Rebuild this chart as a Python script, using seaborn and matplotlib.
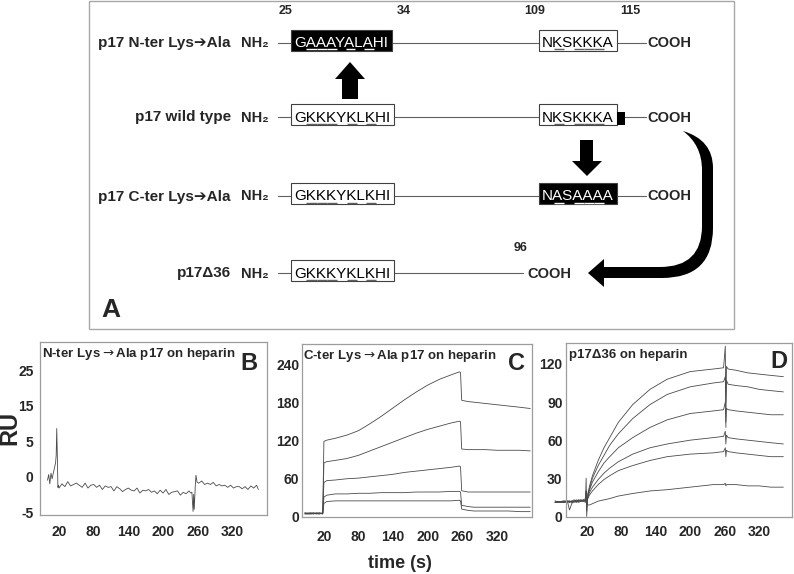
import matplotlib
matplotlib.use("Agg")
import pandas as pd
import matplotlib.pyplot as plt
import seaborn as sns
from matplotlib.patches import Rectangle, Polygon, PathPatch
from matplotlib.path import Path
from matplotlib.font_manager import FontProperties
from matplotlib.textpath import TextToPath

# --- Panel A: p17 constructs ---
ROW_LABELS = ["p17 N-ter Lys\u2794Ala", "p17 wild type", "p17 C-ter Lys\u2794Ala", "p17\u039436"]
N_SEQS = ["GAAAYALAHI", "GKKKYKLKHI", "GKKKYKLKHI", "GKKKYKLKHI"]
N_MUTATED = [True, False, False, False]
N_UNDERLINE = [1, 2, 3, 5, 7]
C_SEQS = ["NKSKKKA", "NKSKKKA", "NASAAAA", None]
C_MUTATED = [False, False, True, False]
C_UNDERLINE = [1, 3, 4, 5]
RESIDUES = ["25", "34", "109", "115"]
TRUNC_RESIDUE = "96"

# --- Panels B-D: sensorgrams (time in s, response in RU) ---
X_TICKS = [20, 80, 140, 200, 260, 320]

# B: N-ter Lys->Ala p17 (tick labels of the original are 25/15/5/0/-5 on an even grid)
B_TIME = [0, 2, 4, 6, 8, 10, 12, 14, 15, 16, 17, 18, 19, 20,
          25, 30, 35, 40, 45, 50, 55, 60, 65, 70, 75, 80, 85, 90, 95, 100, 105, 110, 115,
          120, 125, 130, 135, 140, 145, 150, 155, 160, 165, 170, 175, 180, 185, 190, 195,
          200, 205, 210, 215, 220, 225, 230, 235, 240, 245,
          248, 250, 252, 253, 254, 256, 257, 259,
          262, 267, 272, 277, 282, 287, 292, 297, 302, 307, 312, 317, 322, 327, 332, 337,
          342, 347, 352, 357, 362, 365]
B_RU = [-0.5, 0.3, -1.0, 0.5, -0.3, 0.5, 1.2, 2.0, 3.0, 6.8, 3.0, -1.5, -1.2, -1.6,
        -1.0, -1.4, -0.7, -1.3, -1.1, -0.9, -1.2, -1.5, -0.9, -1.6,
        -1.2, -1.1, -1.5, -1.2, -1.8, -1.3, -1.5, -1.4, -2.0, -1.4,
        -1.7, -2.1, -1.8, -1.6, -1.9, -2.0, -1.6, -2.3, -1.9, -2.0,
        -1.8, -2.2, -2.0, -2.4, -1.9, -2.3, -1.8, -2.5, -2.2, -2.1,
        -2.0, -2.6, -2.2, -2.4, -2.0,
        -2.3, -2.2, -4.9, -2.5, -4.6, -1.0, 0.2, -0.8,
        -0.9, -0.6, -1.1, -0.9, -1.1, -0.8, -1.3, -1.1, -1.3, -1.2,
        -1.5, -1.2, -1.6, -1.4, -1.4, -1.7, -1.4, -1.8, -1.3, -1.6, -1.2, -1.8]
B_YTICKS = [-5, 0, 5, 10, 15]
B_YLABELS = ["-5", "0", "5", "15", "25"]

# C: C-ter Lys->Ala p17, five concentrations
C_TIME = [-13, -8, -3, 2, 7, 12, 18, 20, 25, 40, 60, 80, 100, 120, 140, 160, 180, 200,
          220, 240, 255, 257, 259, 270, 280, 300, 320, 340, 360, 378]
C_1 = [4, 5, 4, 5, 3, 5, 4, 118, 120, 123, 128, 135, 146, 158, 171, 184, 196, 207,
       216, 223, 228, 227, 183, 181, 180, 178, 176, 174, 172, 170]
C_2 = [5, 4, 5, 3, 5, 4, 5, 84, 86, 88, 91, 96, 103, 110, 117, 124, 131, 137,
       142, 147, 150, 149, 106, 105, 105, 105, 104, 104, 104, 103]
C_3 = [3, 4, 5, 4, 4, 3, 5, 53, 56, 57, 59, 60, 62, 64, 66, 69, 71, 73,
       75, 77, 79, 78, 40, 38, 38, 38, 38, 38, 38, 38]
C_4 = [4, 3, 4, 5, 4, 5, 3, 30, 33, 35, 35, 36, 36, 37, 37, 37, 38, 38,
       38, 39, 39, 38, 17, 15, 14, 14, 14, 14, 14, 14]
C_5 = [5, 4, 3, 4, 5, 4, 4, 20, 23, 24, 24, 24, 24, 24, 24, 24, 24, 24,
       24, 24, 25, 24, 11, 9, 8, 8, 8, 8, 7, 7]
C_YTICKS = [0, 60, 120, 180, 240]

# D: p17 delta36, six concentrations
D_TIME = [-35, -20, -13, -10, -6, -2, 2, 6, 10, 14, 18, 19, 20, 22, 25, 30, 40, 50, 60,
          75, 100, 130, 160, 200, 240, 258, 261, 262, 263, 266, 280, 300, 320, 340, 362]
D_1 = [11, 11, 11, 5, 10, 12, 12, 13, 12, 13, 14, 30, 0, 18, 24, 32, 44, 54, 62,
       74, 88, 100, 108, 114, 116, 117, 134, 70, 118, 116, 115, 113, 112, 111, 110]
D_2 = [11, 12, 12, 11, 12, 13, 12, 12, 13, 12, 13, 20, 4, 17, 22, 30, 40, 48, 56,
       65, 77, 88, 96, 102, 105, 106, 110, 90, 107, 104, 103, 102, 100, 99, 98]
D_3 = [12, 11, 12, 12, 11, 12, 13, 12, 12, 13, 12, 16, 8, 16, 21, 27, 35, 42, 47,
       54, 62, 70, 76, 81, 83, 84, 90, 74, 85, 84, 83, 82, 81, 80, 80]
D_4 = [11, 12, 11, 12, 12, 11, 12, 13, 12, 12, 13, 14, 10, 15, 19, 23, 29, 34, 38,
       43, 49, 54, 57, 60, 62, 63, 67, 57, 64, 62, 61, 60, 59, 58, 57]
D_5 = [12, 11, 12, 11, 12, 12, 11, 12, 13, 12, 12, 13, 11, 14, 17, 20, 25, 29, 32,
       36, 40, 44, 47, 49, 50, 51, 54, 47, 52, 51, 50, 49, 48, 47, 47]
D_6 = [11, 12, 12, 12, 11, 12, 12, 11, 12, 12, 11, 12, 10, 9, 9, 10, 12, 13, 14,
       16, 18, 20, 21, 23, 25, 25, 26, 24, 25, 25, 25, 24, 24, 23, 23]
D_YTICKS = [0, 30, 60, 90, 120]

PANEL_TITLES = ["N-ter Lys$\\rightarrow$Ala p17 on heparin",
                "C-ter Lys$\\rightarrow$Ala p17 on heparin",
                "p17\u039436 on heparin"]
PANEL_LETTERS = ["B", "C", "D"]

# --- style ---
sns.set_style("white")
FAMILY = ["Liberation Sans", "DejaVu Sans"]
plt.rcParams["font.family"] = FAMILY
TRACE = "#4a4a4a"
SPINE = "#9c9c9c"

W, H, DPI = 794, 574, 100
fig = plt.figure(figsize=(W / DPI, H / DPI), dpi=DPI)

# pixel-space overlay for the schematic and figure-level labels
ov = fig.add_axes([0, 0, 1, 1])
ov.set_xlim(0, W)
ov.set_ylim(H, 0)
ov.axis("off")
ov.set_zorder(10)


def px_rect(left, top, right, bottom):
    return [left / W, (H - bottom) / H, (right - left) / W, (bottom - top) / H]


t2p = TextToPath()
seq_prop = FontProperties(family="Liberation Sans", size=11, weight="normal")


def text_px(s, prop):
    w, _, _ = t2p.get_text_width_height_descent(s, prop, ismath=False)
    return w * DPI / 72


def seq_box(x0, y, seq, under, filled):
    pad = 3
    w = text_px(seq, seq_prop) + 2 * pad
    ov.add_patch(Rectangle((x0, y - 13), w, 21, fc="black" if filled else "white",
                           ec="#404040", lw=0.8, zorder=3))
    base = y + 4.5
    ov.text(x0 + pad, base, seq, ha="left", va="baseline", fontproperties=seq_prop,
            color="white" if filled else "black", zorder=4)
    for i in under:
        a = x0 + pad + text_px(seq[:i], seq_prop) + 0.5
        b = x0 + pad + text_px(seq[:i + 1], seq_prop) + 0.5
        ov.plot([a, b], [base + 2, base + 2], color="white" if filled else "#606060",
                lw=1.0, solid_capstyle="butt", zorder=4)
    return x0 + w


# panel A frame
ov.add_patch(Rectangle((89, 1), 645, 328, fill=False, ec="#a8a8a8", lw=1.0))

bold11 = dict(fontsize=11, fontweight="bold", family=FAMILY)
bold10 = dict(fontsize=10.5, fontweight="bold", family=FAMILY)
LINE = dict(color="#606060", lw=0.8, zorder=2)

for x, lab in zip([286, 404, 535, 630], RESIDUES):
    ov.text(x, 14, lab, ha="center", va="baseline", fontsize=9, fontweight="bold")

ROW_Y = [42.5, 117, 196, 273]
for i, y in enumerate(ROW_Y):
    ov.text(231, y + 4.5, ROW_LABELS[i], ha="right", va="baseline", **bold11)
    ov.text(241, y + 4.5, "NH\u2082", ha="left", va="baseline", **bold10)
    ov.plot([278, 292], [y, y], **LINE)
    xr = seq_box(291, y, N_SEQS[i], N_UNDERLINE, N_MUTATED[i])
    if C_SEQS[i] is None:
        ov.plot([xr, 523], [y, y], **LINE)
        ov.text(527, y + 4.5, "COOH", ha="left", va="baseline", **bold10)
        ov.text(521, y - 22, TRUNC_RESIDUE, ha="center", va="baseline",
                fontsize=9, fontweight="bold")
        continue
    ov.plot([xr, 539], [y, y], **LINE)
    xr2 = seq_box(539, y, C_SEQS[i], C_UNDERLINE, C_MUTATED[i])
    if i == 1:
        ov.add_patch(Rectangle((xr2, y - 5), 8, 13, fc="black", ec="black", lw=0, zorder=3))
    ov.plot([xr2, 646], [y, y], **LINE)
    ov.text(647, y + 4.5, "COOH", ha="left", va="baseline", **bold10)

# block arrows
ov.add_patch(Polygon([(342, 99), (358, 99), (358, 79), (365, 79), (350, 62), (335, 79), (342, 79)],
                     closed=True, fc="black", ec="none"))
ov.add_patch(Polygon([(580, 140), (593, 140), (593, 161), (602, 161), (587, 176), (572, 161), (580, 161)],
                     closed=True, fc="black", ec="none"))
verts = [(683, 131), (713, 140), (713, 168), (713, 228), (713, 278), (662, 278), (603, 278),
         (603, 267), (660, 267), (702, 267), (702, 226), (702, 170), (702, 145), (683, 131), (683, 131)]
codes = [Path.MOVETO, Path.CURVE3, Path.CURVE3, Path.LINETO, Path.CURVE3, Path.CURVE3, Path.LINETO,
         Path.LINETO, Path.LINETO, Path.CURVE3, Path.CURVE3, Path.LINETO, Path.CURVE3, Path.CURVE3,
         Path.CLOSEPOLY]
ov.add_patch(PathPatch(Path(verts, codes), fc="black", ec="none"))
ov.add_patch(Polygon([(604, 259), (588, 273), (604, 287)], closed=True, fc="black", ec="none"))

ov.text(101, 317, "A", ha="left", va="baseline", fontsize=19, fontweight="bold")

# --- kinetics panels ---
df_b = pd.DataFrame({"time": B_TIME, "RU": B_RU})
rows = []
for k, vals in enumerate([C_1, C_2, C_3, C_4, C_5]):
    rows.append(pd.DataFrame({"time": C_TIME, "RU": vals, "curve": k}))
df_c = pd.concat(rows, ignore_index=True)
rows = []
for k, vals in enumerate([D_1, D_2, D_3, D_4, D_5, D_6]):
    rows.append(pd.DataFrame({"time": D_TIME, "RU": vals, "curve": k}))
df_d = pd.concat(rows, ignore_index=True)

ax_b = fig.add_axes(px_rect(40, 342, 267, 515))
ax_c = fig.add_axes(px_rect(302, 344, 532, 517))
ax_d = fig.add_axes(px_rect(566, 343, 792, 517))

sns.lineplot(data=df_b, x="time", y="RU", color=TRACE, lw=0.6, ax=ax_b)
sns.lineplot(data=df_c, x="time", y="RU", units="curve", estimator=None, color=TRACE,
             lw=0.6, ax=ax_c, legend=False)
sns.lineplot(data=df_d, x="time", y="RU", units="curve", estimator=None, color=TRACE,
             lw=0.6, ax=ax_d, legend=False)
for ln in ax_d.lines:
    ln.set_clip_on(False)

setup = [
    (ax_b, (-13, 380), (-5.4, 19), B_YTICKS, B_YLABELS, 4.5, 7),
    (ax_c, (-18, 381), (-1.5, 272), C_YTICKS, [str(v) for v in C_YTICKS], 2, 9.5),
    (ax_d, (-16, 377), (-0.5, 136.5), D_YTICKS, [str(v) for v in D_YTICKS], 2.5, 6),
]
for ax, xl, yl, yt, ylab, ypad, xpad in setup:
    ax.set_xlim(*xl)
    ax.set_ylim(*yl)
    ax.set_xticks(X_TICKS)
    ax.set_xticklabels([str(v) for v in X_TICKS])
    ax.set_yticks(yt)
    ax.set_yticklabels(ylab)
    ax.set_xlabel("")
    ax.set_ylabel("")
    ax.patch.set_alpha(0)
    for s in ax.spines.values():
        s.set_visible(True)
        s.set_color(SPINE)
        s.set_linewidth(0.9)
    ax.tick_params(direction="in", length=3, width=0.8, color=SPINE, labelsize=10)
    ax.tick_params(axis="y", pad=ypad)
    ax.tick_params(axis="x", pad=xpad)
    for lab in ax.get_xticklabels() + ax.get_yticklabels():
        lab.set_fontweight("bold")

# panel titles and letters
for (x, yb), title in zip([(42, 357), (303, 358.5), (569, 358)], PANEL_TITLES):
    ov.text(x, yb, title, ha="left", va="baseline", fontsize=9.5, fontweight="bold")
for (x, yb), letter in zip([(258, 370), (525, 370), (788, 368)], PANEL_LETTERS):
    ov.text(x, yb, letter, ha="right", va="baseline", fontsize=17, fontweight="bold")

ov.text(10, 428, "RU", rotation=90, ha="center", va="center", fontsize=17, fontweight="bold")
ov.text(400, 563, "time (s)", ha="center", va="center", fontsize=13, fontweight="bold")

fig.savefig("out.png", dpi=DPI)
